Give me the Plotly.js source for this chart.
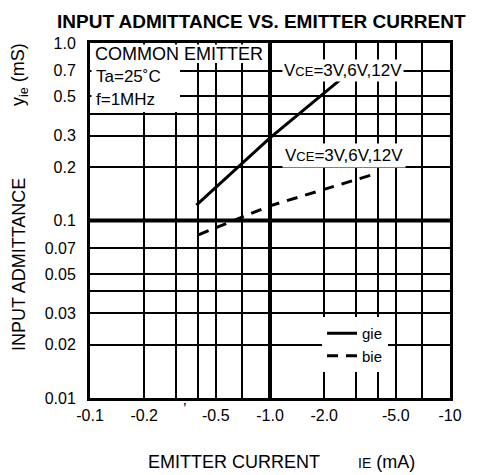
<!DOCTYPE html>
<html>
<head>
<meta charset="utf-8">
<script src="https://cdn.plot.ly/plotly-3.0.1.min.js"></script>
<style>html,body{margin:0;padding:0;background:#fff;}#chart{width:483px;height:475px;}</style>
</head>
<body>
<div id="chart"></div>
<script>
// ---- data (IE magnitude in mA, admittance in mS) ----
var gieIE = [0.39, 1.0, 2.45];
var gieVal = [0.122, 0.292, 0.62];
var bieIE = [0.4, 1.0, 3.83];
var bieVal = [0.083, 0.121, 0.183];

var xTickVals = [0.1, 0.2, 0.3, 0.4, 0.5, 0.7, 1, 2, 3, 4, 5, 7, 10];
var xTickText = ["-0.1", "-0.2", "", "", "-0.5", "", "-1.0", "-2.0", "", "", "-5.0", "", "-10"];
var yTickVals = [0.01, 0.02, 0.03, 0.04, 0.05, 0.07, 0.1, 0.2, 0.3, 0.4, 0.5, 0.7, 1];
var yTickText = ["0.01", "0.02", "0.03", "", "0.05", "0.07", "0.1", "0.2", "0.3", "", "0.5", "0.7", "1.0"];

// ---- layout helpers (pixel -> paper) ----
var L = 90, R = 450, T = 43, B = 398;
function px(x) { return (x - L) / (R - L); }
function py(y) { return (B - y) / (B - T); }

var FONT = "Liberation Sans, Arial, Helvetica, sans-serif";

var traces = [
  { x: gieIE, y: gieVal, type: "scatter", mode: "lines", name: "gie",
    line: { color: "#000", width: 3 } },
  { x: bieIE, y: bieVal, type: "scatter", mode: "lines", name: "bie",
    line: { color: "#000", width: 3, dash: "11px,8px" } }
];

var ann = function (text, x, y, opts) {
  var a = { text: text, xref: "paper", yref: "paper", x: px(x), y: py(y),
    showarrow: false, xanchor: "center", yanchor: "middle",
    font: { family: FONT, size: 17, color: "#000" } };
  for (var k in opts) a[k] = opts[k];
  return a;
};

var layout = {
  width: 483, height: 475,
  margin: { l: L, r: 483 - R, t: T, b: 475 - B, pad: 0 },
  paper_bgcolor: "#fff", plot_bgcolor: "#fff",
  showlegend: true,
  legend: { x: px(322), y: py(317), xanchor: "left", yanchor: "top",
    bgcolor: "#fff", borderwidth: 0, font: { family: FONT, size: 15, color: "#000" },
    tracegroupgap: 0 },
  xaxis: { type: "log", range: [-1, 1], tickvals: xTickVals, ticktext: xTickText,
    showgrid: true, gridcolor: "#000", gridwidth: 2, zeroline: false,
    showline: true, mirror: true, linecolor: "#000", linewidth: 3, ticks: "",
    ticklabelstandoff: 1,
    tickfont: { family: FONT, size: 16, color: "#000" } },
  yaxis: { type: "log", range: [-2, 0], tickvals: yTickVals, ticktext: yTickText,
    showgrid: true, gridcolor: "#000", gridwidth: 2, zeroline: false,
    showline: true, mirror: true, linecolor: "#000", linewidth: 3, ticks: "",
    ticklabelstandoff: 8,
    tickfont: { family: FONT, size: 16, color: "#000" } },
  shapes: [
    { type: "line", xref: "paper", yref: "paper", x0: 0.5, x1: 0.5, y0: 0, y1: 1,
      line: { color: "#000", width: 4 }, layer: "between" },
    { type: "line", xref: "paper", yref: "paper", x0: 0, x1: 1, y0: 0.5, y1: 0.5,
      line: { color: "#000", width: 4 }, layer: "between" },
    { type: "rect", xref: "paper", yref: "paper", x0: px(91.5), x1: px(266), y0: py(63), y1: py(44.5),
      fillcolor: "#fff", line: { width: 0 }, layer: "above" },
    { type: "rect", xref: "paper", yref: "paper", x0: px(91.5), x1: px(180), y0: py(112), y1: py(62),
      fillcolor: "#fff", line: { width: 0 }, layer: "above" }
  ],
  annotations: [
    ann("<b>INPUT ADMITTANCE VS. EMITTER CURRENT</b>", 261, 21, { font: { family: FONT, size: 19, color: "#000" } }),
    ann("COMMON EMITTER", 93, 54, { xanchor: "left", font: { family: FONT, size: 18, color: "#000" } }),
    ann("Ta=25˚C", 94, 76, { xanchor: "left" }),
    ann("f=1MHz", 94, 99, { xanchor: "left" }),
    ann("V<span style='font-size:13px'>CE</span>=3V,6V,12V", 282, 70, { xanchor: "left", bgcolor: "#fff", borderpad: 1 }),
    ann("V<span style='font-size:13px'>CE</span>=3V,6V,12V", 282, 155, { xanchor: "left", bgcolor: "#fff", borderpad: 2 }),
    ann("’", 185, 409, { font: { family: FONT, size: 16, color: "#000" } }),
    ann("EMITTER CURRENT", 234, 462, { font: { family: FONT, size: 18, color: "#000" } }),
    ann("<span style='font-size:14px'>IE</span> (mA)", 386, 462, { font: { family: FONT, size: 18, color: "#000" } }),
    ann("INPUT ADMITTANCE", 19, 265, { textangle: -90, font: { family: FONT, size: 18, color: "#000" } }),
    ann("y<sub>ie</sub> (mS)", 19, 75, { textangle: -90, font: { family: FONT, size: 18, color: "#000" } })
  ]
};

Plotly.newPlot("chart", traces, layout, { displayModeBar: false, staticPlot: true });
</script>
</body>
</html>
